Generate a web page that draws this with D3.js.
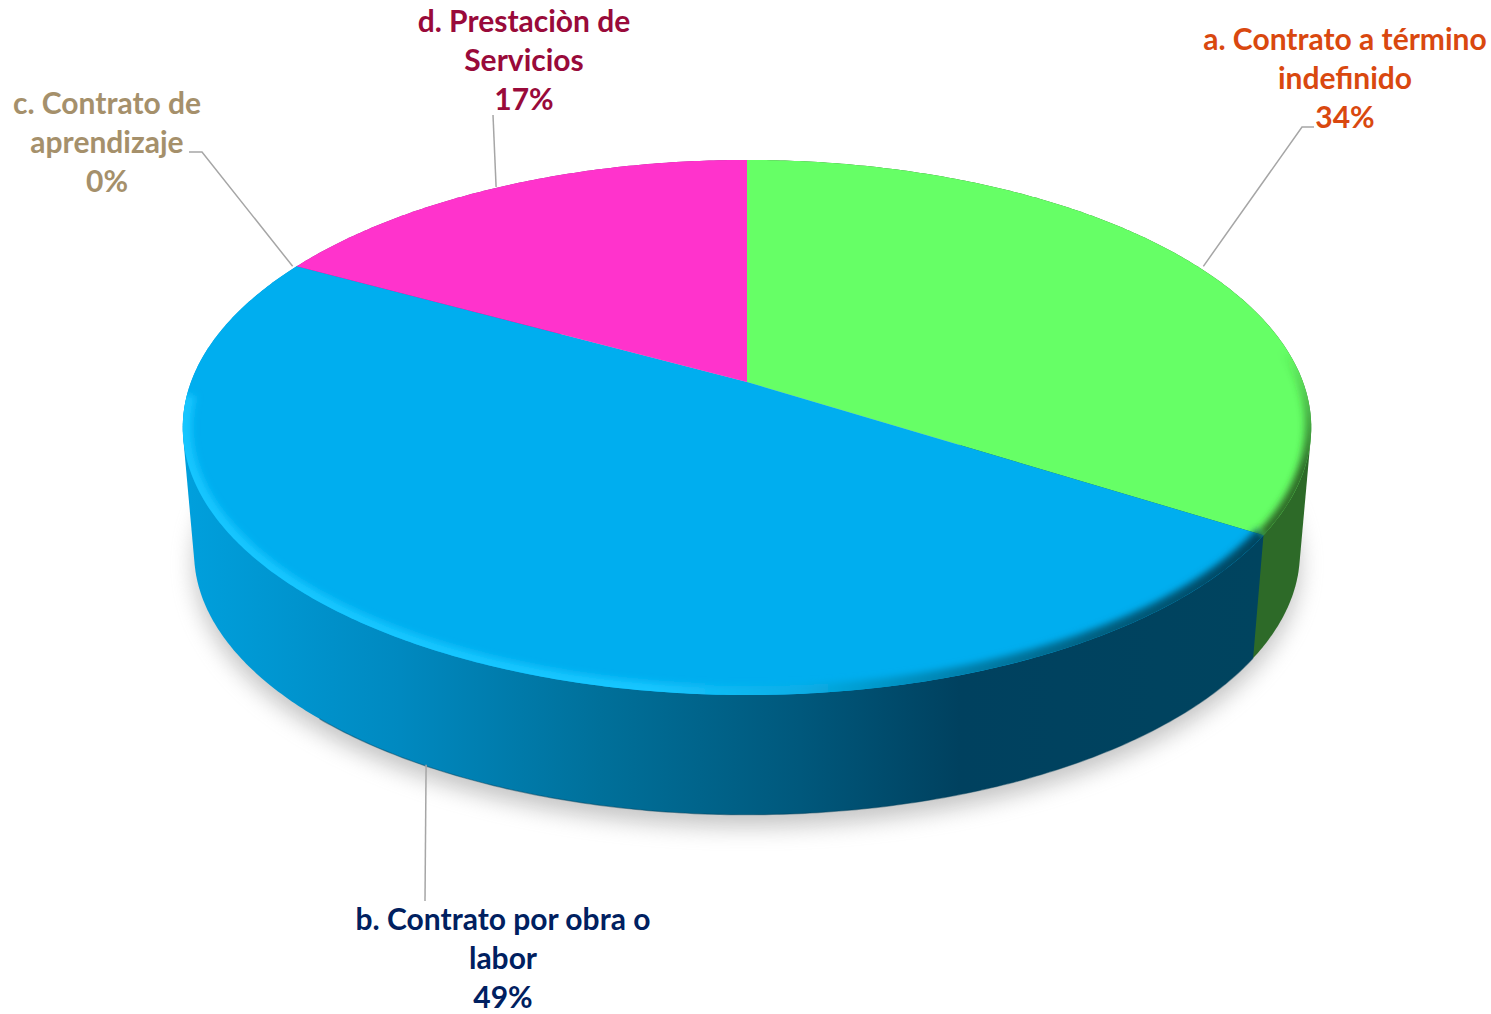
<!DOCTYPE html>
<html>
<head>
<meta charset="utf-8">
<script src="https://cdn.jsdelivr.net/npm/d3@7"></script>
<style>
  html, body { margin: 0; padding: 0; background: #fff; overflow: hidden; }
  text { font-family: Lato, "Open Sans", sans-serif; font-weight: 700; }
</style>
</head>
<body>
<svg width="1491" height="1014"></svg>
<script>
// values
const categories = ["a. Contrato a término indefinido", "b. Contrato por obra o labor", "c. Contrato de aprendizaje", "d. Prestaciòn de Servicios"];
const values = [34, 49, 0, 17];
const percentLabels = ["34%", "49%", "0%", "17%"];
const labelLines = [["a. Contrato a término", "indefinido"], ["b. Contrato por obra o", "labor"], ["c. Contrato de", "aprendizaje"], ["d. Prestaciòn de", "Servicios"]];
const topColors = ["#66ff66", "#00aeef", "#a5a5a5", "#ff33cc"];
const labelColors = ["#d9480f", "#002060", "#a5906b", "#990a3a"];

// label layout: centre x, first baseline, leader nudge and elbows
const labelPos = [
  {x: 1345, y: 50, nudge: 6, leader: [[1302, 127], [1314, 127]], onBottom: false},
  {x: 503, y: 930, nudge: 4, leader: [[425, 901]], onBottom: true},
  {x: 107, y: 114, nudge: -4, leader: [[202, 152], [189, 152]], onBottom: false},
  {x: 524, y: 32, nudge: -4, leader: [[493, 115]], onBottom: false}
];

const lineHeight = 39;
const fontSize = 30;

// perspective of the pie: apex, radii, tilt
const cx = 747, cy = 382, rx = 556, ry = 259.8, tilt = -0.17;
const depth = 126, bottomScale = 0.98;

// angle (clockwise from the top) -> screen point on top or bottom disc
function project(theta, bottom) {
  const u = Math.sin(theta), v = -Math.cos(theta);
  const w = 1 + tilt * v;
  const s = bottom ? bottomScale : 1;
  return [cx + s * rx * u / w, cy + (bottom ? depth : 0) + s * ry * v / w];
}

function arcPoints(a0, a1, bottom) {
  const n = Math.max(2, Math.ceil(Math.abs(a1 - a0) / 0.01));
  return d3.range(n + 1).map(i => project(a0 + (a1 - a0) * i / n, bottom));
}

const line = d3.line();
const pie = d3.pie().sort(null).value(d => d)(values);
const TAU = Math.PI * 2;

const svg = d3.select("svg");
const defs = svg.append("defs");

function blur(id, sd) {
  defs.append("filter").attr("id", id)
    .attr("x", "-20%").attr("y", "-20%").attr("width", "140%").attr("height", "140%")
    .append("feGaussianBlur").attr("stdDeviation", sd);
}
blur("shadowBlur", 11);
blur("rimBlur", 3.5);

function hGradient(id, x1, x2, stops) {
  const g = defs.append("linearGradient").attr("id", id)
    .attr("gradientUnits", "userSpaceOnUse")
    .attr("x1", x1).attr("x2", x2).attr("y1", 0).attr("y2", 0);
  stops.forEach(s => g.append("stop").attr("offset", (s[0] - x1) / (x2 - x1)).attr("stop-color", s[1]));
}

hGradient("sideBlue", 190, 1260, [[190, "#009fdc"], [400, "#0089c0"], [600, "#00709a"], [800, "#00587c"], [960, "#00415f"], [1260, "#00445f"]]);
hGradient("rimBlue", 184, 1260, [[184, "#17c6ff"], [650, "#17c6ff"], [800, "#08aee6"], [950, "#0083b0"], [1100, "#005f80"], [1260, "#00445f"]]);

// green bevel fades in going down the right edge
const rimGreen = defs.append("linearGradient").attr("id", "rimGreen")
  .attr("gradientUnits", "userSpaceOnUse")
  .attr("x1", 0).attr("x2", 0).attr("y1", 350).attr("y2", 470);
rimGreen.append("stop").attr("offset", 0).attr("stop-color", "#2d6a28").attr("stop-opacity", 0);
rimGreen.append("stop").attr("offset", 1).attr("stop-color", "#2d6a28").attr("stop-opacity", 1);

const sideFills = ["#2d6a28", "url(#sideBlue)", "#888", "#a0208a"];

// clip for the bevel, follows the whole top face
defs.append("clipPath").attr("id", "topClip")
  .append("path").attr("d", line(arcPoints(0, TAU, false)) + "Z");

// soft shadow on the floor
svg.append("path")
  .attr("d", line(arcPoints(0, TAU, true)) + "Z")
  .attr("transform", "translate(0,12)")
  .attr("fill", "#8c8c8c")
  .attr("opacity", 0.5)
  .attr("filter", "url(#shadowBlur)");

// sides: hull of both arcs, back slices first so blue sits over the green wall
[3, 2, 0, 1].forEach(i => {
  const d = pie[i];
  if (d.endAngle - d.startAngle === 0) return;
  const pts = arcPoints(d.startAngle, d.endAngle, false)
    .concat(arcPoints(d.startAngle, d.endAngle, true));
  svg.append("path").attr("d", line(d3.polygonHull(pts)) + "Z").attr("fill", sideFills[i]);
});

// dark line under the blue wall
svg.append("path")
  .attr("d", line(arcPoints(pie[1].startAngle, 3.9, true)))
  .attr("fill", "none").attr("stroke", "#00405c").attr("stroke-width", 1.2).attr("opacity", 0.45);

// top face
pie.forEach((d, i) => {
  if (d.endAngle - d.startAngle === 0) return;
  const pts = [[cx, cy]].concat(arcPoints(d.startAngle, d.endAngle, false));
  svg.append("path").attr("d", line(pts) + "Z").attr("fill", topColors[i]);
});

// bevel along the front edge
const bevel = svg.append("g").attr("clip-path", "url(#topClip)");
bevel.append("path")
  .attr("d", line(arcPoints(pie[1].startAngle, pie[1].endAngle - 0.55, false)))
  .attr("fill", "none").attr("stroke", "url(#rimBlue)").attr("stroke-width", 18)
  .attr("filter", "url(#rimBlur)");
bevel.append("path")
  .attr("d", line(arcPoints(1.25, pie[0].endAngle, false)))
  .attr("fill", "none").attr("stroke", "url(#rimGreen)").attr("stroke-width", 13)
  .attr("filter", "url(#rimBlur)");

// leader lines start at the middle of each slice
pie.forEach((d, i) => {
  const mid = (d.startAngle + d.endAngle) / 2;
  const p = project(mid, labelPos[i].onBottom);
  const pts = [[p[0] + labelPos[i].nudge, p[1]]].concat(labelPos[i].leader);
  svg.append("path").attr("d", line(pts))
    .attr("fill", "none").attr("stroke", "#a6a6a6").attr("stroke-width", 1.5);
});

// labels
categories.forEach((c, i) => {
  const t = svg.append("text")
    .attr("text-anchor", "middle")
    .attr("font-size", fontSize)
    .attr("fill", labelColors[i]);
  labelLines[i].concat(percentLabels[i]).forEach((s, j) => {
    t.append("tspan").attr("x", labelPos[i].x).attr("y", labelPos[i].y + j * lineHeight).text(s);
  });
});
</script>
</body>
</html>
